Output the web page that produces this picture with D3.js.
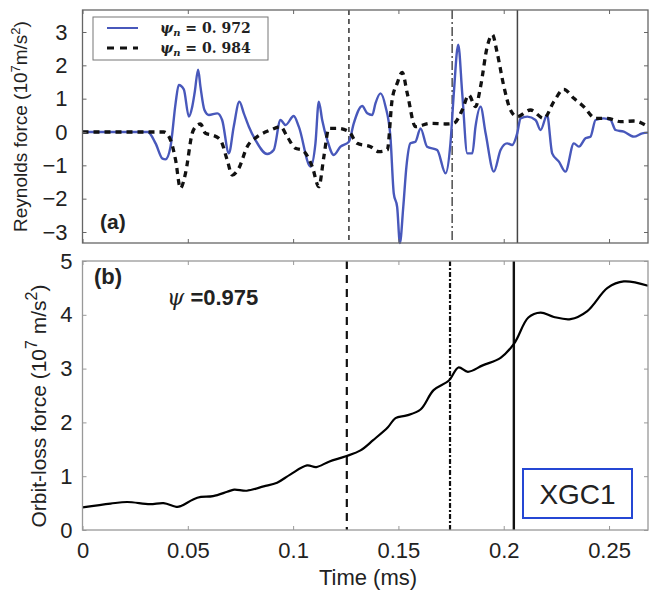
<!DOCTYPE html>
<html>
<head>
<meta charset="utf-8">
<script src="https://cdn.jsdelivr.net/npm/d3@7"></script>
<style>
  body { margin: 0; background: #fff; }
  svg text { font-family: "Liberation Sans", Arial, sans-serif; fill: #222; }
</style>
</head>
<body>
<svg id="chart" width="649" height="594"></svg>
<script>
// time (ms), value
const reynolds972 = [[0,0],[0.031,0],[0.0347,-0.34],[0.038,-0.8],[0.0394,-0.82],[0.0418,-0.44],[0.0442,0.86],[0.0457,1.41],[0.0481,1.28],[0.0505,0.46],[0.0521,0.76],[0.0533,1.2],[0.0549,1.87],[0.056,1.36],[0.0579,0.66],[0.06,0.51],[0.064,0.56],[0.0663,0.36],[0.0695,-0.64],[0.0718,0.16],[0.0745,0.91],[0.0766,0.56],[0.079,0.16],[0.0821,-0.24],[0.0877,-0.66],[0.0908,-0.54],[0.094,0.36],[0.0964,0.21],[0.1003,0.48],[0.1027,0.16],[0.1083,-1.04],[0.1106,-0.34],[0.1122,0.91],[0.1138,0.36],[0.1162,-0.24],[0.1193,-0.69],[0.1225,-0.44],[0.1265,-0.29],[0.1288,0.26],[0.1328,0.78],[0.1352,0.56],[0.1376,0.51],[0.1391,0.86],[0.1415,1.16],[0.1439,0.76],[0.1462,-0.14],[0.1478,-1.85],[0.1494,-2.25],[0.1507,-3.33],[0.1523,-2.25],[0.1538,-1.04],[0.1557,-0.34],[0.1581,-0.29],[0.1605,0.11],[0.1636,-0.44],[0.1684,-0.54],[0.1724,-1.24],[0.1747,-0.34],[0.1763,1.16],[0.1784,2.62],[0.1803,1.16],[0.1827,-0.64],[0.1851,-0.64],[0.1866,0.16],[0.189,0.76],[0.1914,-0.04],[0.1953,-1.19],[0.1985,-0.54],[0.2016,-0.34],[0.204,-0.39],[0.2064,-0.04],[0.208,0.41],[0.2112,0.46],[0.2151,0.36],[0.2175,0.06],[0.2206,0.51],[0.223,-0.64],[0.2262,-0.89],[0.2293,-1.19],[0.2333,-0.34],[0.2357,-0.44],[0.2388,-0.19],[0.2412,-0.14],[0.2436,0.36],[0.2475,0.41],[0.2507,0.36],[0.2531,0.06],[0.257,0.01],[0.2618,-0.14],[0.2658,-0.04],[0.2685,-0.02]];

const reynolds984 = [[0,0],[0.0386,0],[0.0418,-0.24],[0.0442,-0.84],[0.0465,-1.69],[0.0489,-1.24],[0.0521,-0.04],[0.0537,0.16],[0.056,0.24],[0.0584,-0.04],[0.0616,-0.09],[0.0655,-0.24],[0.0687,-0.84],[0.0711,-1.29],[0.0742,-1.09],[0.0782,-0.44],[0.083,-0.14],[0.0893,0.06],[0.094,0.16],[0.0972,-0.14],[0.1011,-0.49],[0.1043,-0.54],[0.1091,-1.04],[0.1122,-1.64],[0.1146,-0.74],[0.117,0.11],[0.121,0.11],[0.1265,0.01],[0.1304,-0.34],[0.1368,-0.44],[0.1407,-0.59],[0.1447,-0.54],[0.147,0.96],[0.1494,1.46],[0.1518,1.79],[0.1542,1.16],[0.1581,0.16],[0.1652,0.26],[0.1724,0.24],[0.1763,0.26],[0.1803,0.66],[0.1834,1.11],[0.1866,0.76],[0.189,1.36],[0.1922,2.57],[0.1946,2.92],[0.1969,2.37],[0.2001,1.36],[0.2032,0.66],[0.2064,0.46],[0.2127,0.66],[0.219,0.41],[0.2238,0.91],[0.2285,1.28],[0.2333,1.01],[0.238,0.76],[0.2436,0.41],[0.2491,0.41],[0.2555,0.31],[0.2618,0.33],[0.2685,0.16]];

const orbitLoss = [[0,0.42],[0.0133,0.49],[0.0212,0.52],[0.032,0.48],[0.0385,0.5],[0.045,0.43],[0.047,0.45],[0.0545,0.6],[0.062,0.63],[0.0687,0.71],[0.072,0.75],[0.078,0.73],[0.086,0.81],[0.0924,0.88],[0.0986,1.03],[0.1066,1.2],[0.111,1.17],[0.117,1.27],[0.125,1.37],[0.132,1.48],[0.138,1.67],[0.145,1.91],[0.1486,2.08],[0.154,2.13],[0.1605,2.24],[0.1667,2.6],[0.174,2.78],[0.1785,3.02],[0.183,2.94],[0.19,3.06],[0.1985,3.2],[0.205,3.47],[0.2117,3.95],[0.2175,4.04],[0.2238,3.96],[0.2317,3.92],[0.2397,4.07],[0.2493,4.5],[0.257,4.62],[0.2685,4.54]];

const timeTicks = [0, 0.05, 0.1, 0.15, 0.2, 0.25];
const timeLabels = ["0", "0.05", "0.1", "0.15", "0.2", "0.25"];
const reynoldsTicks = [-3, -2, -1, 0, 1, 2, 3];
const orbitTicks = [0, 1, 2, 3, 4, 5];
const markerTimesTop = [0.1265, 0.1755, 0.2065];
const markerTimesBottom = [0.1255, 0.1745, 0.2048];
const legendLabels = ["0. 972", "0. 984"];

const svg = d3.select('#chart');
const left = 82.5, right = 648;

const x = d3.scaleLinear().domain([0, 0.2685]).range([left, right]);
const yTop = d3.scaleLinear().domain([-3.33, 3.66]).range([243, 10]);
const yBot = d3.scaleLinear().domain([0, 5]).range([530, 261]);

function drawAxes(yScale, yTicks, showX, frameColor, yPad) {
    const [y1, y0] = yScale.range();
    const g = svg.append('g');

    const ax = g.append('g').attr('transform', `translate(0,${y1})`)
        .call(d3.axisBottom(x).tickValues(timeTicks).tickSize(-4).tickPadding(8)
            .tickFormat((d, i) => showX ? timeLabels[i] : ''));
    const axTop = g.append('g').attr('transform', `translate(0,${y0})`)
        .call(d3.axisTop(x).tickValues(timeTicks).tickSize(-4).tickFormat(''));
    const ay = g.append('g').attr('transform', `translate(${left},0)`)
        .call(d3.axisLeft(yScale).tickValues(yTicks).tickSize(-4).tickPadding(yPad)
            .tickFormat(d3.format('d')));
    const ayR = g.append('g').attr('transform', `translate(${right},0)`)
        .call(d3.axisRight(yScale).tickValues(yTicks).tickSize(-4).tickFormat(''));

    [ax, axTop, ay, ayR].forEach(a => {
        a.select('.domain').remove();
        a.selectAll('line').attr('stroke', frameColor);
        a.selectAll('text').style('font-size', '22px').attr('fill', '#333');
    });
    ax.selectAll('text').attr('dy', '0.9em');

    g.append('rect')
        .attr('x', left).attr('y', y0)
        .attr('width', right - left).attr('height', y1 - y0)
        .attr('fill', 'none').attr('stroke', frameColor).attr('stroke-width', 1.3);
}

// vertical markers
function drawMarkers(yScale, times, styles) {
    const [y1, y0] = yScale.range();
    svg.append('g').selectAll('line')
        .data(times)
        .join('line')
        .attr('x1', d => x(d)).attr('x2', d => x(d))
        .attr('y1', y0).attr('y2', y1)
        .attr('stroke', (d, i) => styles[i].color)
        .attr('stroke-width', (d, i) => styles[i].width)
        .attr('stroke-dasharray', (d, i) => styles[i].dash);
}

// ---------- panel (a)
drawMarkers(yTop, markerTimesTop, [
    { color: '#222', width: 1.4, dash: '5,4' },
    { color: '#222', width: 1.2, dash: '9,3,2,3' },
    { color: '#444', width: 1.5, dash: null }
]);

const lineTop = d3.line().x(d => x(d[0])).y(d => yTop(d[1])).curve(d3.curveMonotoneX);

svg.append('path').datum(reynolds972)
    .attr('d', lineTop).attr('fill', 'none')
    .attr('stroke', '#4858bb').attr('stroke-width', 2.4);

svg.append('path').datum(reynolds984)
    .attr('d', lineTop).attr('fill', 'none')
    .attr('stroke', '#111').attr('stroke-width', 3.3)
    .attr('stroke-dasharray', '6,5');

drawAxes(yTop, reynoldsTicks, false, '#666', 15);

// legend
const leg = svg.append('g');
leg.append('rect').attr('x', 93).attr('y', 17).attr('width', 175).attr('height', 43)
    .attr('fill', '#fff').attr('stroke', '#777').attr('stroke-width', 1);
const legStyles = [
    { color: '#4858bb', width: 2, dash: null },
    { color: '#111', width: 3, dash: '7,6' }
];
legendLabels.forEach((lab, i) => {
    const yy = 28 + i * 20;
    leg.append('line').attr('x1', 107).attr('x2', 138).attr('y1', yy).attr('y2', yy)
        .attr('stroke', legStyles[i].color).attr('stroke-width', legStyles[i].width)
        .attr('stroke-dasharray', legStyles[i].dash);
    const t = leg.append('text').attr('x', 160).attr('y', yy + 5)
        .style('font-family', '"DejaVu Serif", serif').style('font-size', '14px')
        .style('font-weight', 'bold').attr('fill', '#222');
    t.append('tspan').text('ψ').style('font-style', 'italic');
    t.append('tspan').text('n').style('font-style', 'italic').attr('dy', 3).style('font-size', '10px');
    t.append('tspan').text(' = ' + lab).attr('dy', -3);
});

svg.append('text').attr('x', 100).attr('y', 229)
    .style('font-size', '21px').style('font-weight', 'bold').text('(a)');

// y label (a)
const labA = svg.append('text')
    .attr('transform', `translate(27,${(10 + 243) / 2}) rotate(-90)`)
    .attr('text-anchor', 'middle').style('font-size', '19px').attr('fill', '#333');
labA.append('tspan').text('Reynolds force (10');
labA.append('tspan').text('7').attr('dy', -7).style('font-size', '13px');
labA.append('tspan').text('m/s').attr('dy', 7);
labA.append('tspan').text('2').attr('dy', -7).style('font-size', '13px');
labA.append('tspan').text(')').attr('dy', 7);

// ---------- panel (b)
drawMarkers(yBot, markerTimesBottom, [
    { color: '#111', width: 2.2, dash: '8,6' },
    { color: '#111', width: 2.2, dash: '5,2,2,2' },
    { color: '#111', width: 2.4, dash: null }
]);

const lineBot = d3.line().x(d => x(d[0])).y(d => yBot(d[1])).curve(d3.curveCatmullRom.alpha(0.5));
svg.append('path').datum(orbitLoss)
    .attr('d', lineBot).attr('fill', 'none')
    .attr('stroke', '#000').attr('stroke-width', 2.2);

drawAxes(yBot, orbitTicks, true, '#999', 10);

svg.append('text').attr('x', 94).attr('y', 284)
    .style('font-size', '22px').style('font-weight', 'bold').text('(b)');

const psi = svg.append('text').attr('x', 167).attr('y', 305).style('font-size', '22px');
psi.append('tspan').text('ψ').style('font-family', '"DejaVu Serif", serif').style('font-style', 'italic');
psi.append('tspan').text(' =0.975').style('font-weight', 'bold');

// XGC1 box
svg.append('rect').attr('x', 523).attr('y', 469).attr('width', 109).attr('height', 49)
    .attr('fill', '#fff').attr('stroke', '#2547d4').attr('stroke-width', 2);
svg.append('text').attr('x', 577.5).attr('y', 504).attr('text-anchor', 'middle')
    .style('font-size', '28px').attr('fill', '#111').text('XGC1');

// y label (b)
const labB = svg.append('text')
    .attr('transform', `translate(46,${406}) rotate(-90)`)
    .attr('text-anchor', 'middle').style('font-size', '21px').attr('fill', '#333');
labB.append('tspan').text('Orbit-loss force (10');
labB.append('tspan').text('7').attr('dy', -9).style('font-size', '16px');
labB.append('tspan').text(' m/s').attr('dy', 9);
labB.append('tspan').text('2').attr('dy', -9).style('font-size', '16px');
labB.append('tspan').text(')').attr('dy', 9);

// x label
svg.append('text').attr('x', 368).attr('y', 585).attr('text-anchor', 'middle')
    .style('font-size', '22px').attr('fill', '#333').text('Time (ms)');
</script>
</body>
</html>
